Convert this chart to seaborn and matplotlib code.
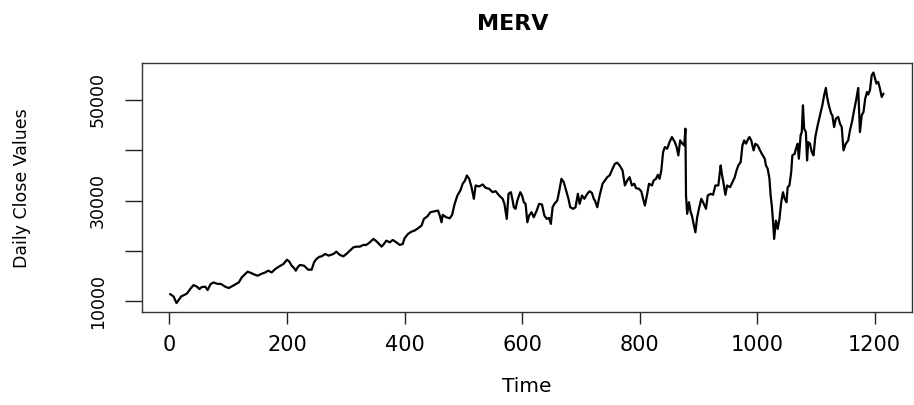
import matplotlib
matplotlib.use("Agg")
import matplotlib.pyplot as plt
import seaborn as sns
import pandas as pd

# Trading day index and daily closing value of the MERV index
day = [
    1, 7, 12, 16, 20, 25, 30, 36, 41, 47, 51, 55, 61, 65, 70, 75, 81, 88, 95, 101,
    106, 112, 118, 123, 129, 133, 139, 144, 150, 156, 163, 168, 174, 180, 187, 194, 200, 204, 208, 212,
    215, 218, 222, 229, 236, 242, 246, 250, 255, 259, 265, 271, 279, 284, 290, 296, 301, 307, 313, 318,
    324, 330, 335, 341, 347, 351, 355, 361, 365, 369, 375, 380, 386, 392, 397, 400, 406, 412, 417, 423,
    429, 433, 439, 444, 451, 457, 460, 463, 465, 471, 477, 481, 485, 490, 495, 499, 503, 506, 510, 514,
    518, 521, 527, 533, 538, 544, 550, 555, 561, 567, 570, 574, 577, 581, 584, 586, 589, 592, 597, 600,
    603, 606, 609, 612, 616, 620, 625, 629, 634, 638, 642, 646, 649, 652, 655, 660, 664, 667, 671, 675,
    679, 682, 687, 691, 695, 698, 702, 706, 711, 715, 719, 722, 724, 728, 732, 737, 741, 745, 749, 754,
    758, 762, 766, 771, 775, 779, 783, 787, 791, 794, 799, 803, 806, 809, 813, 816, 821, 824, 828, 831,
    834, 837, 840, 843, 847, 851, 855, 860, 863, 866, 869, 873, 876, 878, 879, 881, 884, 887, 889, 892,
    895, 898, 901, 905, 908, 913, 916, 921, 925, 929, 934, 938, 940, 943, 946, 949, 954, 958, 962, 965,
    968, 972, 975, 978, 981, 985, 987, 990, 994, 997, 1001, 1005, 1008, 1013, 1015, 1018, 1021, 1023, 1025, 1027,
    1029, 1032, 1035, 1038, 1041, 1044, 1047, 1050, 1052, 1055, 1058, 1060, 1064, 1066, 1069, 1071, 1074, 1076, 1078, 1080,
    1083, 1085, 1087, 1090, 1093, 1096, 1099, 1103, 1107, 1111, 1114, 1117, 1119, 1122, 1126, 1128, 1131, 1134, 1138, 1141,
    1144, 1147, 1151, 1155, 1158, 1162, 1165, 1169, 1172, 1175, 1178, 1181, 1184, 1187, 1189, 1192, 1195, 1198, 1200, 1203,
    1206, 1209, 1212, 1215,
]
close = [
    11470, 11000, 9680, 10340, 11000, 11270, 11590, 12580, 13250, 12920, 12460, 12860, 12920, 12260, 13450, 13770, 13510, 13450, 12920, 12660,
    12980, 13380, 13770, 14770, 15440, 15900, 15640, 15360, 15100, 15440, 15760, 16100, 15760, 16430, 16950, 17430, 18280, 17880, 17090, 16630,
    16100, 16750, 17230, 17090, 16300, 16300, 17750, 18400, 18850, 18940, 19410, 19080, 19410, 19870, 19210, 18940, 19410, 20070, 20720, 20860,
    20860, 21200, 21200, 21720, 22390, 22050, 21600, 20860, 21400, 22050, 21720, 22190, 21720, 21200, 21400, 22510, 23390, 23840, 24040, 24500,
    25030, 26360, 26880, 27680, 27870, 28010, 27020, 25690, 27160, 26680, 26480, 27160, 29200, 30990, 31990, 33320, 33970, 34960, 34310, 32640,
    30340, 32980, 32780, 33180, 32520, 32320, 31650, 31850, 30990, 30340, 29340, 26360, 31330, 31650, 30000, 28670, 28350, 30000, 31650, 30990,
    29660, 29340, 25690, 27020, 27680, 26680, 28010, 29340, 29200, 27020, 26360, 26560, 25370, 28670, 29340, 30000, 32320, 34310, 33630, 31990,
    30340, 28670, 28350, 28670, 31330, 29340, 30990, 30340, 31330, 31850, 31500, 30340, 30000, 28670, 30990, 33320, 33970, 34630, 34960, 36290,
    37280, 37490, 36950, 35960, 32980, 33970, 34630, 32980, 33320, 32440, 32320, 31790, 30340, 29010, 31330, 33320, 32980, 33970, 34310, 35100,
    34310, 35960, 39590, 40590, 40260, 41580, 42570, 41580, 40590, 38940, 41910, 41250, 40920, 44240, 30990, 27360, 29660, 27680, 27020, 25370,
    23700, 26680, 28350, 30340, 29660, 28350, 30990, 31330, 31130, 32980, 32980, 36950, 35300, 33320, 31130, 32980, 32640, 33630, 34630, 35960,
    36950, 37610, 40920, 41910, 41260, 42250, 42570, 41910, 39930, 41260, 40920, 39930, 39270, 38280, 36950, 36290, 34310, 30990, 29010, 26030,
    22390, 26030, 24380, 26360, 29660, 31650, 30340, 29660, 32640, 32980, 35620, 38940, 39270, 40260, 41260, 38280, 42910, 43560, 48870, 44240,
    43560, 37940, 41580, 41260, 39590, 38940, 42570, 44890, 46880, 48870, 50850, 52300, 50510, 48870, 47220, 46880, 44560, 46220, 46550, 45230,
    44560, 39930, 41260, 41910, 43900, 45890, 47870, 50200, 52300, 43560, 46880, 47540, 50200, 51510, 51000, 51850, 54830, 55360, 54490, 53180,
    53500, 52180, 50510, 51190,
]

xtick_values = [0, 200, 400, 600, 800, 1000, 1200]
ytick_values = [10000, 20000, 30000, 40000, 50000]
ytick_labels = ["10000", "", "30000", "", "50000"]

df = pd.DataFrame({"Time": day, "Close": close})

sns.set_style("white")
plt.rcParams["font.family"] = ["DejaVu Sans"]
plt.rcParams["text.color"] = "black"
plt.rcParams["axes.labelcolor"] = "black"
plt.rcParams["xtick.color"] = "black"
plt.rcParams["ytick.color"] = "black"

fig = plt.figure(figsize=(9.14, 4.05), dpi=100)
ax = fig.add_axes([141.5 / 914, 1 - 312.3 / 405, (912 - 141.5) / 914, (312.3 - 63.3) / 405])

sns.lineplot(data=df, x="Time", y="Close", ax=ax, color="black", linewidth=1.6,
             estimator=None, sort=False)

# R-style padded limits around the data range
n0, n1 = min(day), max(day)
pad_x = 0.04 * (n1 - n0)
ax.set_xlim(n0 - pad_x, n1 + pad_x)
lo, hi = min(close), max(close)
pad_y = 0.04 * (hi - lo)
ax.set_ylim(lo - pad_y, hi + pad_y)

ax.set_xticks(xtick_values)
ax.set_xticklabels([str(v) for v in xtick_values])
ax.set_yticks(ytick_values)
ax.set_yticklabels(ytick_labels, rotation=90, va="center")

ax.tick_params(axis="x", direction="out", length=8.6, width=1.0, color="#222222",
               labelsize=15, pad=8, bottom=True, labelcolor="black")
ax.tick_params(axis="y", direction="out", length=12, width=1.0, color="#222222",
               labelsize=12.5, pad=13, left=True, labelcolor="black")

for s in ax.spines.values():
    s.set_color("#333333")
    s.set_linewidth(1.0)

ax.set_xlabel("Time", fontsize=14.5, color="black")
ax.set_ylabel("Daily Close Values", fontsize=12.5, color="black")
ax.xaxis.set_label_coords(0.5, (312.3 - 387) / 249.0)
ax.xaxis.label.set_va("center")
ax.yaxis.set_label_coords((22 - 141.5) / 770.5, 0.5)
ax.yaxis.label.set_va("center")

title = ax.set_title("MERV", fontsize=16, fontweight="bold", pad=24, color="black")
title.set_x((513 - 141.5) / 770.5)

fig.savefig("out.png", dpi=100, facecolor="white")
